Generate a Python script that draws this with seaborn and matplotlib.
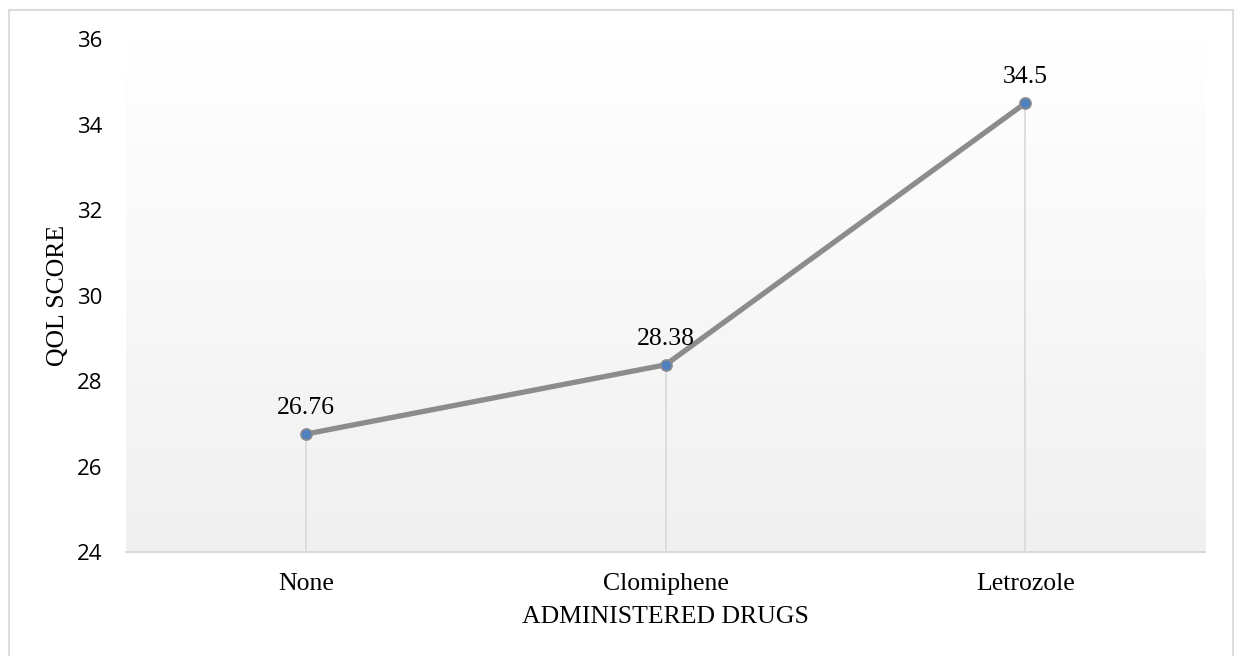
import numpy as np
import pandas as pd
import seaborn as sns
from matplotlib import pyplot as plt
from matplotlib.colors import LinearSegmentedColormap
from matplotlib.patches import Rectangle

drugs = ["None", "Clomiphene", "Letrozole"]
qol_scores = [26.76, 28.38, 34.5]
score_labels = ["26.76", "28.38", "34.5"]

df = pd.DataFrame({"drug": drugs, "score": qol_scores})

sns.set_theme(style="white")
plt.rcParams["font.family"] = ["Open Sans", "DejaVu Sans"]
plt.rcParams["text.color"] = "black"
plt.rcParams["axes.labelcolor"] = "black"
plt.rcParams["xtick.color"] = "black"
plt.rcParams["ytick.color"] = "black"

fig = plt.figure(figsize=(12.36, 6.56), dpi=100)
ax = fig.add_axes([0.102, 0.1585, 0.873, 0.782])

# outer chart frame
fig.patches.append(Rectangle((9 / 1236, -0.05), 1224 / 1236, 1.05 - 10 / 656,
                             transform=fig.transFigure, fill=False,
                             edgecolor="#dcdcdc", linewidth=1.5, zorder=0))

# gradient plot area background
grad = np.linspace(0, 1, 256).reshape(-1, 1)
ax.imshow(grad, extent=[0, 1, 0, 1], transform=ax.transAxes, aspect="auto",
          cmap=LinearSegmentedColormap.from_list("g", ["#f0f0f0", "#ffffff"]),
          origin="lower", zorder=0)

sns.lineplot(data=df, x="drug", y="score", ax=ax, color="#8c8c8c", linewidth=3.8,
             marker="o", markersize=8, markerfacecolor="#4f81bd",
             markeredgecolor="#8c8c8c", markeredgewidth=1.2, zorder=3, sort=False)

# drop lines
ax.vlines(range(len(drugs)), 24, qol_scores, color="#d9d9d9", linewidth=1.2, zorder=1)

for i, (v, lab) in enumerate(zip(qol_scores, score_labels)):
    ax.annotate(lab, (i, v), xytext=(0, 11), textcoords="offset points",
                ha="center", va="bottom", fontsize=18.5, family="Liberation Serif")

ax.set_xlim(-0.5, 2.5)
ax.set_ylim(24, 36)
ax.set_yticks([24, 26, 28, 30, 32, 34, 36])
for s in ["top", "right", "left"]:
    ax.spines[s].set_visible(False)
ax.spines["bottom"].set_color("#d9d9d9")
ax.spines["bottom"].set_linewidth(1.5)
ax.tick_params(axis="y", labelsize=16, pad=17, length=0)
ax.tick_params(axis="x", labelsize=18.5, pad=15, length=0)
for t in ax.get_xticklabels():
    t.set_family("Liberation Serif")
ax.set_xlabel("ADMINISTERED DRUGS", fontsize=18.5, family="Liberation Serif", labelpad=8)
ax.set_ylabel("QOL SCORE", fontsize=18.5, family="Liberation Serif", labelpad=6)
ax.grid(False)

fig.savefig("out.png", dpi=100)
